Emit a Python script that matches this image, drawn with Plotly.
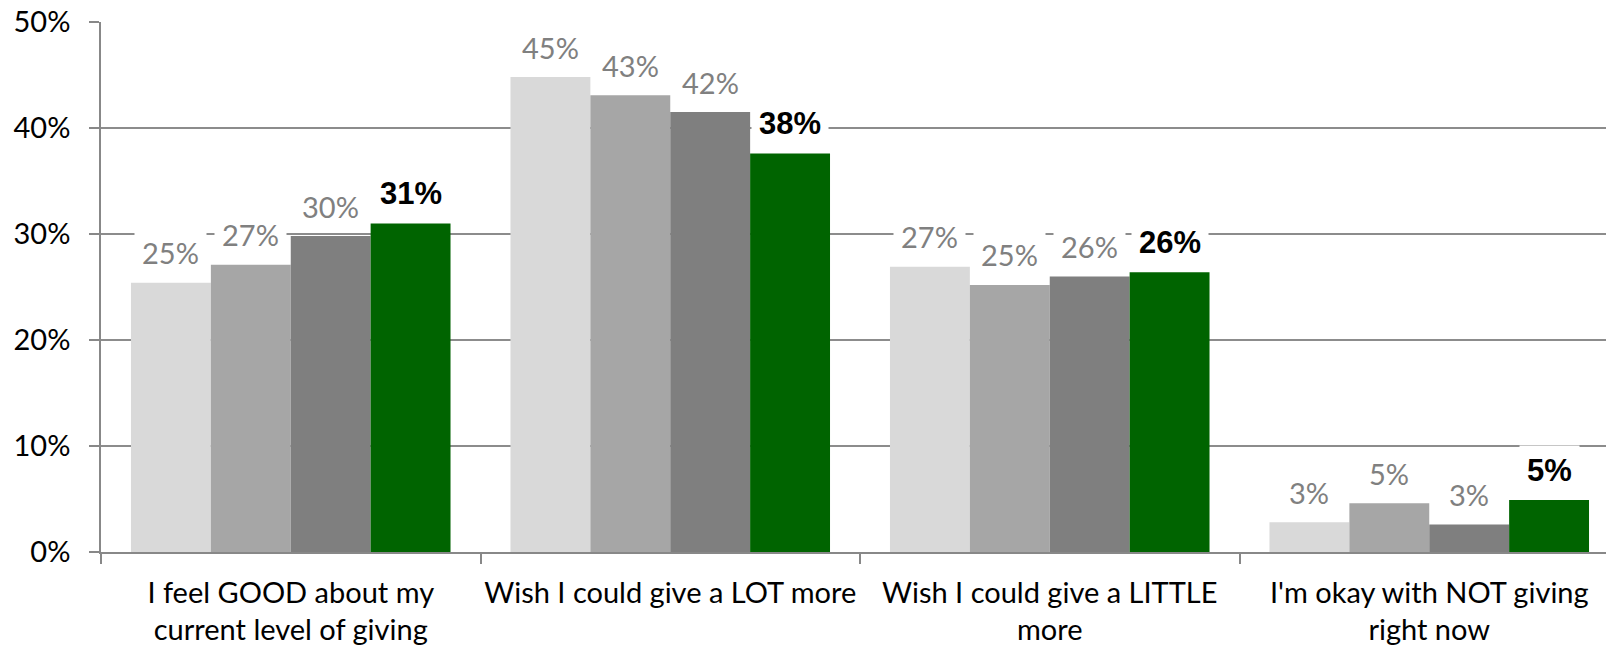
import plotly.graph_objects as go

# Survey answers (x-axis categories, two-line labels)
categories = [
    "I feel GOOD about my<br>current level of giving",
    "Wish I could give a LOT more",
    "Wish I could give a LITTLE<br>more",
    "I'm okay with NOT giving<br>right now",
]

# Share of respondents per wave (oldest -> latest)
series_names = ["Wave 1", "Wave 2", "Wave 3", "Wave 4"]
wave1 = [0.254, 0.448, 0.269, 0.028]
wave2 = [0.271, 0.431, 0.252, 0.046]
wave3 = [0.298, 0.415, 0.260, 0.026]
wave4 = [0.310, 0.376, 0.264, 0.049]
series_values = [wave1, wave2, wave3, wave4]

bar_colors = ["#d9d9d9", "#a6a6a6", "#7f7f7f", "#006400"]
y_ticks = [0, 0.1, 0.2, 0.3, 0.4, 0.5]

BARGAP = 0.158
n_series = len(series_values)
bar_w = (1 - BARGAP) / n_series

fig = go.Figure()
for name, vals, color in zip(series_names, series_values, bar_colors):
    fig.add_trace(go.Bar(
        x=categories, y=vals, name=name,
        marker=dict(color=color, line=dict(width=0)),
        hoverinfo="skip",
    ))

# Value labels on white boxes above each bar
annotations = []
for j, vals in enumerate(series_values):
    latest = j == n_series - 1
    for i, v in enumerate(vals):
        annotations.append(dict(
            x=i + (j - (n_series - 1) / 2) * bar_w,
            y=v, xref="x", yref="y",
            text=f"{v:.0%}",
            showarrow=False,
            yanchor="middle", yshift=30,
            bgcolor="white", borderpad=7,
            font=dict(
                family="Liberation Sans" if latest else "Lato",
                size=31 if latest else 29,
                color="black" if latest else "#808080",
                weight="bold" if latest else "normal",
            ),
        ))

fig.update_layout(
    width=1606, height=649,
    margin=dict(l=101, r=0, t=22, b=97),
    paper_bgcolor="white", plot_bgcolor="white",
    barmode="group", bargap=BARGAP, bargroupgap=0,
    showlegend=False,
    annotations=annotations,
    font=dict(family="Lato", size=29, color="black"),
)
fig.update_xaxes(
    range=[-0.5, 3.5 - 13 / 379.5],
    automargin=False, tickangle=0,
    showline=True, linecolor="#888888", linewidth=1.5,
    ticks="outside", tickson="boundaries", ticklen=10,
    tickcolor="#888888", tickwidth=1.5,
    showgrid=False, zeroline=False,
    tickfont=dict(family="Lato", size=29, color="black"),
    ticklabelstandoff=14,
)
fig.update_yaxes(
    range=[0, 0.5],
    automargin=False,
    tickvals=y_ticks, tickformat=".0%",
    showline=True, linecolor="#888888", linewidth=1.5,
    ticks="outside", ticklen=10, tickcolor="#888888", tickwidth=1.5,
    showgrid=True, gridcolor="#8c8c8c", gridwidth=1.5,
    zeroline=False,
    tickfont=dict(family="Lato", size=29, color="black"),
    ticklabelstandoff=13,
)

fig.write_html("out.html")
